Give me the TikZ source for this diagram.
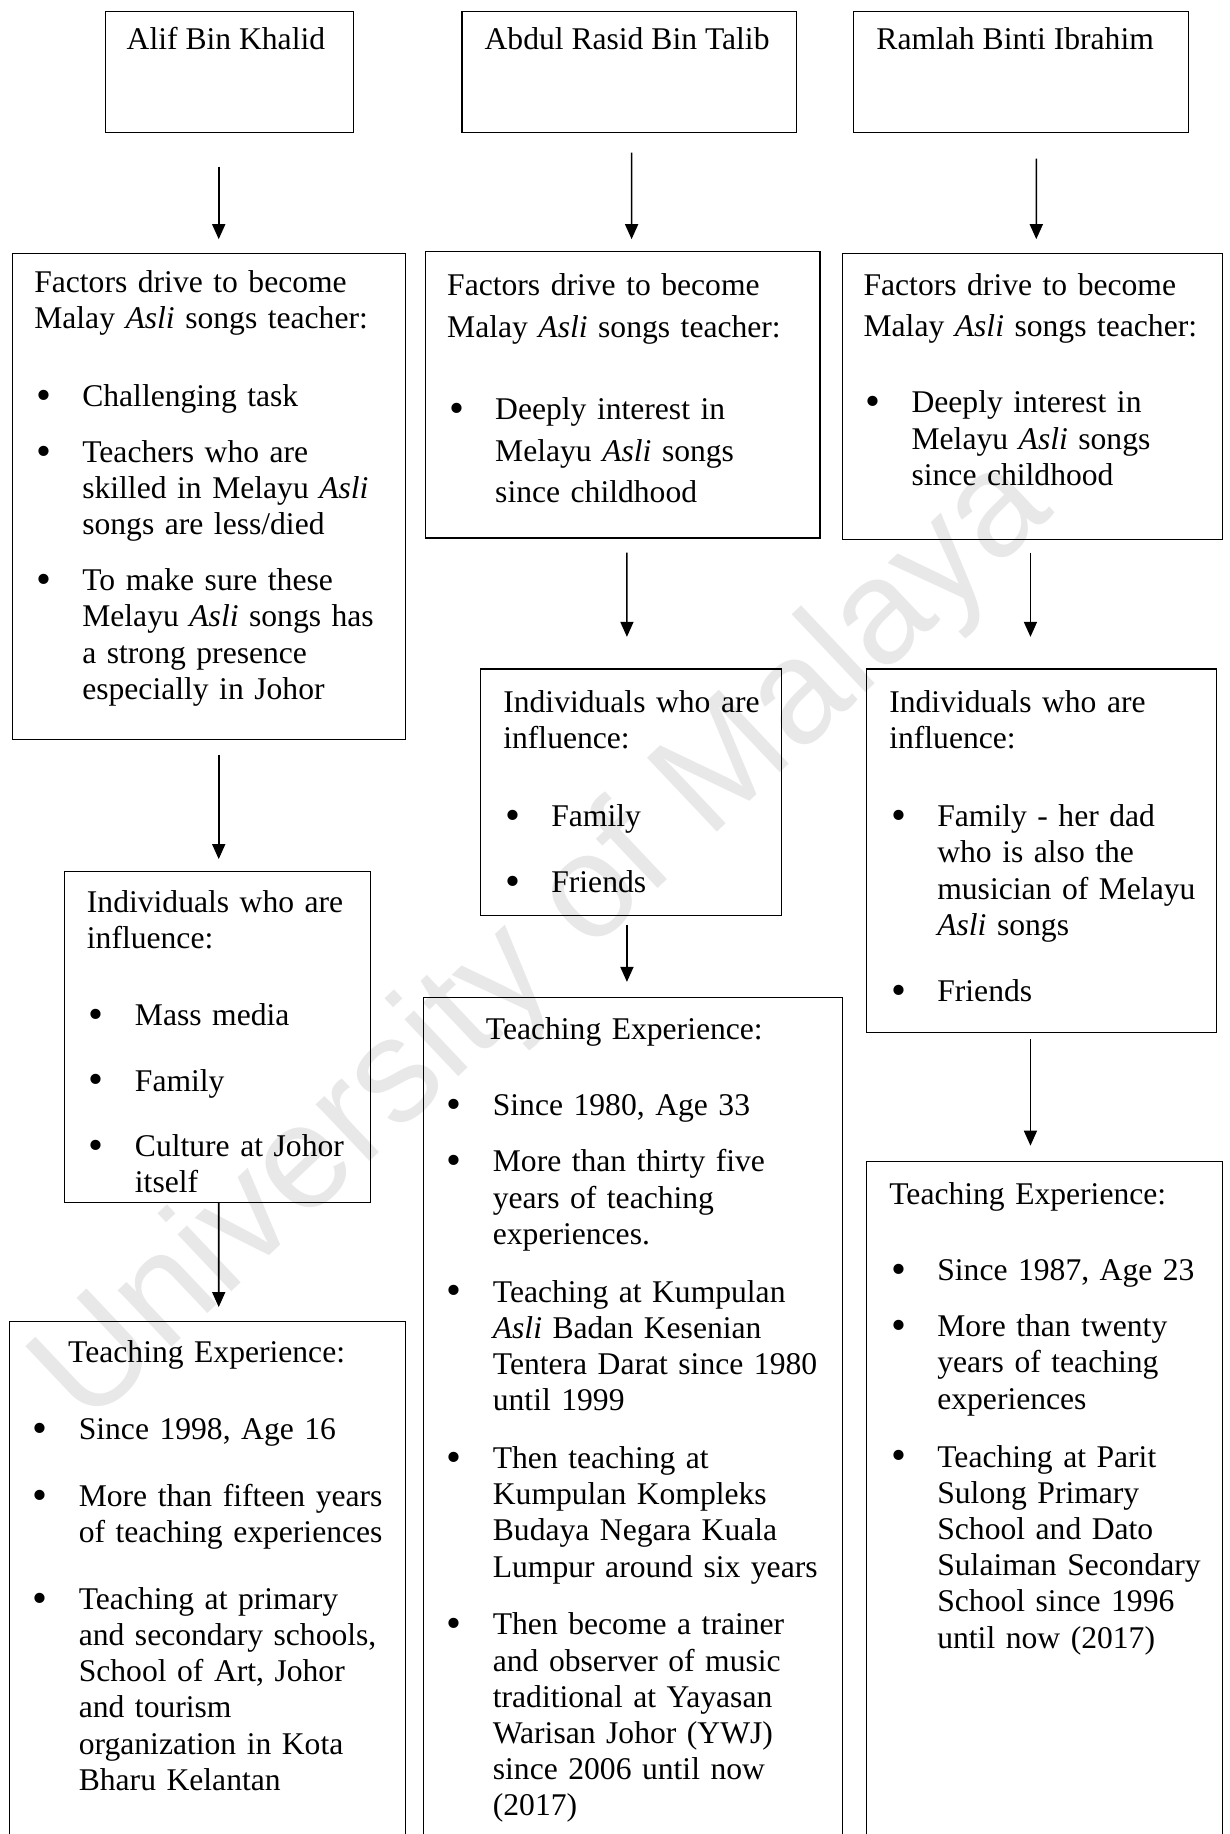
\documentclass[tikz,border=0pt]{standalone}
\usepackage{fontspec}
\setmainfont{Liberation Serif}
\newfontfamily\wmfont{Liberation Sans}
\usetikzlibrary{arrows.meta,fit}
\setlength{\parskip}{0pt}
\newlength{\bhang}\setlength{\bhang}{24pt}
% bullet item: optional space before it, then the text (\\ breaks inside the item)
\newcommand{\bitem}[2][9.9pt]{\par\vspace{#1}\hangindent=\bhang\hangafter=0\noindent
  \llap{\makebox[0pt]{\raisebox{-1.4pt}{\scalebox{1.35}{\textbullet}}}\hspace{19.3pt}}%
  {\let\\\newline#2}\par}

\begin{document}
\begin{tikzpicture}[x=0.5847pt,y=-0.5847pt,
    box/.style={draw,line width=0.6pt,inner sep=0pt},
    txt/.style={anchor=base west,align=left,inner sep=0pt,text width=#1,
      font={\fontsize{15.8pt}{18.1pt}\selectfont}},
    lbl/.style={anchor=base west,inner sep=0pt,font={\fontsize{15.8pt}{18.1pt}\selectfont}},
    flow/.style={line width=0.8pt,-{Triangle[length=7.5pt,width=6.5pt]}},
    wm/.style={text=black!9,inner sep=0pt,font={\wmfont\fontsize{74pt}{80pt}\selectfont}}]
  \useasboundingbox (0,0) rectangle (1051,1568);
  \clip (0,0) rectangle (1051,1568);

  \node[wm,rotate=43.4] (wmark) at (466,806) {University of Malaya};

  % the three teachers
  \node[box,fit={(90,10) (302,113)}] (top1) {};
  \node[box,fit={(395,10) (681,113)}] (top2) {};
  \node[box,fit={(730,10) (1016,113)}] (top3) {};
  \node[lbl] (top1t) at (108,42) {Alif Bin Khalid};
  \node[lbl] (top2t) at (414,42) {Abdul Rasid Bin Talib};
  \node[lbl] (top3t) at (749,42) {Ramlah Binti Ibrahim};

  % factors
  \node[box,fit={(11,217) (347,632)}] (fac1) {};
  \node[box,fit={(364,215) (701,460)}] (fac2) {};
  \node[box,fit={(720,217) (1045,461)}] (fac3) {};
  \node[txt=181pt] (fac1t) at (29,250) {Factors drive to become\\
    Malay \textit{Asli} songs teacher:\par
    \bitem[21pt]{Challenging task}
    \bitem[9.6pt]{Teachers who are\\ skilled in Melayu \textit{Asli}\\ songs are less/died}
    \bitem[9.9pt]{To make sure these\\ Melayu \textit{Asli} songs has\\ a strong presence\\ especially in Johor}};
  \node[txt=182pt,font={\fontsize{15.8pt}{20.8pt}\selectfont}] (fac2t) at (382,253) {Factors drive to become\\
    Malay \textit{Asli} songs teacher:\par
    \bitem[20.2pt]{Deeply interest in\\ Melayu \textit{Asli} songs\\ since childhood}};
  \node[txt=175pt,font={\fontsize{15.8pt}{18.4pt}\selectfont}] (fac3t) at (738,253) {Factors drive to become\\[2pt]
    Malay \textit{Asli} songs teacher:\par
    \bitem[19.4pt]{Deeply interest in\\ Melayu \textit{Asli} songs\\ since childhood}};

  % individuals
  \node[box,fit={(55,745) (317,1028)}] (ind1) {};
  \node[box,fit={(411,572) (668,783)}] (ind2) {};
  \node[box,fit={(741,572) (1040,883)}] (ind3) {};
  \node[txt=139pt] (ind1t) at (74,780) {Individuals who are\\ influence:\par
    \bitem[20.5pt]{Mass media}
    \bitem[14.6pt]{Family}
    \bitem[14.6pt]{Culture at Johor\\ itself}};
  \node[txt=136pt] (ind2t) at (430,609) {Individuals who are\\ influence:\par
    \bitem[21pt]{Family}
    \bitem[15pt]{Friends}};
  \node[txt=161pt] (ind3t) at (760,609) {Individuals who are\\ influence:\par
    \bitem[21pt]{Family - her dad\\ who is also the\\ musician of Melayu\\ \textit{Asli} songs}
    \bitem[15pt]{Friends}};

  % teaching experience
  \node[box,fit={(8,1130) (347,1600)}] (tea1) {};
  \node[box,fit={(362,853) (720,1600)}] (tea2) {};
  \node[box,fit={(741,993) (1045,1600)}] (tea3) {};
  \node[txt=185pt] (tea1t) at (26,1165) {\hspace*{18.7pt}Teaching Experience:\par
    \bitem[20.5pt]{Since 1998, Age 16}
    \bitem[15.2pt]{More than fifteen years\\ of teaching experiences}
    \bitem[15.2pt]{Teaching at primary\\ and secondary schools,\\ School of Art, Johor\\ and tourism\\ organization in Kota\\ Bharu Kelantan}};
  \node[txt=196pt] (tea2t) at (380,889) {\hspace*{20.5pt}Teaching Experience:\par
    \bitem[19.9pt]{Since 1980, Age 33}
    \bitem{More than thirty five\\ years of teaching\\ experiences.}
    \bitem[10.8pt]{Teaching at Kumpulan\\ \textit{Asli} Badan Kesenian\\ Tentera Darat since 1980\\ until 1999}
    \bitem[10.8pt]{Then teaching at\\ Kumpulan Kompleks\\ Budaya Negara Kuala\\ Lumpur around six years}
    \bitem[10.8pt]{Then become a trainer\\ and observer of music\\ traditional at Yayasan\\ Warisan Johor (YWJ)\\ since 2006 until now\\ (2017)}};
  \node[txt=164pt] (tea3t) at (760,1030) {Teaching Experience:\par
    \bitem[19.9pt]{Since 1987, Age 23}
    \bitem{More than twenty\\ years of teaching\\ experiences}
    \bitem[10.8pt]{Teaching at Parit\\ Sulong Primary\\ School and Dato\\ Sulaiman Secondary\\ School since 1996\\ until now (2017)}};

  \draw[flow] ([shift={(-9,29)}]top1.south) -- ([shift={(8,-12)}]fac1.north);
  \draw[flow] ([shift={(8,13)}]fac1.south) -- ([shift={(1,-10)}]ind1.north);
  \draw[flow] ([shift={(1,0)}]ind1.south) -- ([shift={(9.5,-12)}]tea1.north);
  \draw[flow] ([shift={(2,17)}]top2.south) -- ([shift={(7.5,-10)}]fac2.north);
  \draw[flow] ([shift={(3.5,12)}]fac2.south) -- ([shift={(-3.5,-27)}]ind2.north);
  \draw[flow] ([shift={(-3.5,7)}]ind2.south) -- ([shift={(-5,-13)}]tea2.north);
  \draw[flow] ([shift={(13,22)}]top3.south) -- ([shift={(3.5,-12)}]fac3.north);
  \draw[flow] ([shift={(-1.5,11)}]fac3.south) -- ([shift={(-9.5,-27)}]ind3.north);
  \draw[flow] ([shift={(-9.5,5)}]ind3.south) -- ([shift={(-12,-13)}]tea3.north);
\end{tikzpicture}
\end{document}
